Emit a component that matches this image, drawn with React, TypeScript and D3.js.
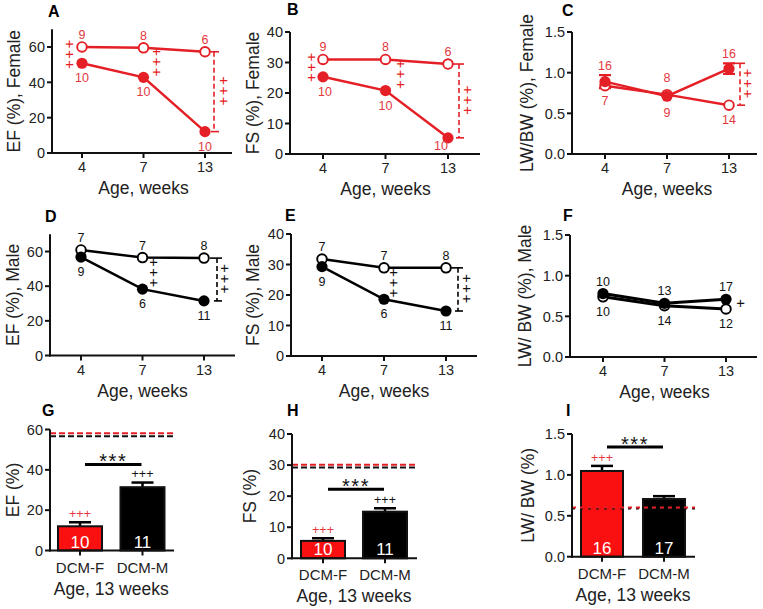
import React from 'react';
import * as d3 from 'd3';

// ---------- data ----------
const weeks = ['4', '7', '13'];
const groups = ['DCM-F', 'DCM-M'];

const efFemaleCtrl = [60, 59.5, 57.3];
const efFemaleDcm = [50.8, 42.8, 12.1];
const fsFemaleCtrl = [31, 31, 29.5];
const fsFemaleDcm = [25.3, 20.8, 5.3];
const lwFemaleCtrl = [0.84, 0.73, 0.6];
const lwFemaleDcm = [0.89, 0.71, 1.05];
const lwFemaleDcmErr = [0.08, 0, 0.065];

const efMaleCtrl = [60.9, 56.5, 56.2];
const efMaleDcm = [56.8, 38.3, 31.5];
const fsMaleCtrl = [31.8, 28.9, 28.9];
const fsMaleDcm = [29.3, 18.6, 14.75];
const lwMaleCtrl = [0.74, 0.63, 0.59];
const lwMaleDcm = [0.78, 0.66, 0.71];

const nFemaleEchoCtrl = ['9', '8', '6'];
const nFemaleEchoDcm = ['10', '10', '10'];
const nFemaleLwCtrl = ['7', '8', '14'];
const nFemaleLwDcm = ['16', '9', '16'];
const nMaleEchoCtrl = ['7', '7', '8'];
const nMaleEchoDcm = ['9', '6', '11'];
const nMaleLwCtrl = ['10', '14', '12'];
const nMaleLwDcm = ['10', '13', '17'];

const ef13Values = [12, 31.4];
const ef13Err = [2, 2.3];
const ef13Ctrl = [58.2, 56.7]; // female ctrl (red), male ctrl (black)
const ef13Sig = 42.7;
const fs13Values = [5.6, 15.0];
const fs13Err = [0.85, 1.1];
const fs13Ctrl = [30.1, 29.2];
const fs13Sig = 22.2;
const lw13Values = [1.048, 0.705];
const lw13Err = [0.062, 0.035];
const lw13Ctrl = [0.6, 0.59];
const lw13Sig = 1.34;
const n13Echo = ['10', '11'];
const n13Lw = ['16', '17'];

const ticksEF = [0, 20, 40, 60];
const ticksFS = [0, 10, 20, 30, 40];
const ticksLW = [0, 0.5, 1.0, 1.5];

// ---------- style ----------
const FONT = "Arial, 'Liberation Sans', Helvetica, sans-serif";
const RED = '#e41f26';
const RED_TXT = '#e3383e';
const BAR_RED = '#fa1010';
const BLACK = '#000';
const AXIS = '#111';

type Cross = { i: number; dx: number; count: number };
type Bracket = { i: number; dx: number; fromErr?: boolean };

interface LineProps {
  letter: string; letterX: number; letterY: number;
  axisX: number; xEnd: number; yRange: [number, number]; yDomain: [number, number];
  yTicks: number[]; fmt?: string; xRange: [number, number];
  ctrl: number[]; dcm: number[]; dcmErr?: number[];
  nCtrl: string[]; nDcm: string[]; ctrlPos: string[]; dcmPos: string[];
  ctrlNudge?: [number, number][]; dcmNudge?: [number, number][];
  color: string; txtColor: string; title: string; titleX: number;
  crosses: Cross[]; bracket?: Bracket; lw?: number;
}

function YAxis({ axisX, y, ticks, fmt }: any) {
  const f = fmt ? d3.format(fmt) : (d: number) => String(d);
  const [d0, d1] = y.domain();
  return (
    <g>
      <line x1={axisX} x2={axisX} y1={y(d0) + 1} y2={y(d1)} stroke={AXIS} strokeWidth={2} />
      {ticks.map((t: number) => (
        <g key={t}>
          <line x1={axisX - 5} x2={axisX} y1={y(t)} y2={y(t)} stroke={AXIS} strokeWidth={2} />
          <text x={axisX - 7} y={y(t)} dy="0.36em" textAnchor="end" fontSize={14.5} fontFamily={FONT} fill="#222">{f(t)}</text>
        </g>
      ))}
    </g>
  );
}

function LinePanel(p: LineProps) {
  const y = d3.scaleLinear().domain(p.yDomain).range(p.yRange);
  const x = d3.scalePoint<string>().domain(weeks).range(p.xRange);
  const line = d3.line<number>().x((_, i) => x(weeks[i])!).y((d) => y(d));
  const y0 = y(0);
  const lw = p.lw ?? 2.5;
  const labelY = (v: number, pos: string, err?: number) => {
    if (pos === 'above') return err ? y(v + err) - 9.5 : y(v) - 12.5;
    return y(v) + 14.5;
  };
  const midX = (p.xRange[0] + p.xRange[1]) / 2;
  const midY = (p.yRange[0] + p.yRange[1]) / 2;
  const crossColor = p.color === BLACK ? '#111' : RED;
  return (
    <g>
      <text x={p.letterX} y={p.letterY} fontSize={16} fontWeight="bold" fontFamily={FONT}>{p.letter}</text>
      <YAxis axisX={p.axisX} y={y} ticks={p.yTicks} fmt={p.fmt} />
      <line x1={p.axisX - 1} x2={p.xEnd} y1={y0} y2={y0} stroke={AXIS} strokeWidth={2} />
      {weeks.map((w) => (
        <g key={w}>
          <line x1={x(w)} x2={x(w)} y1={y0} y2={y0 + 5} stroke={AXIS} strokeWidth={2} />
          <text x={x(w)} y={y0 + 19} textAnchor="middle" fontSize={14.5} fontFamily={FONT} fill="#222">{w}</text>
        </g>
      ))}
      <text x={midX} y={y0 + 41} textAnchor="middle" fontSize={17.5} fontFamily={FONT} fill="#222">Age, weeks</text>
      <text transform={`translate(${p.titleX},${midY}) rotate(-90)`} textAnchor="middle" dy="0.36em" fontSize={17.5} fontFamily={FONT} fill="#222">{p.title}</text>

      <path d={line(p.ctrl)!} fill="none" stroke={p.color} strokeWidth={lw} />
      <path d={line(p.dcm)!} fill="none" stroke={p.color} strokeWidth={lw} />

      {p.bracket && (() => {
        const b = p.bracket!;
        const bx = x(weeks[b.i])! + b.dx;
        const top = b.fromErr && p.dcmErr ? p.dcm[b.i] + p.dcmErr[b.i] : Math.max(p.ctrl[b.i], p.dcm[b.i]);
        const bottom = b.fromErr ? p.ctrl[b.i] : Math.min(p.ctrl[b.i], p.dcm[b.i]);
        return (
          <g stroke={p.color} strokeWidth={1.6}>
            <line x1={bx} x2={bx} y1={y(top)} y2={y(bottom)} strokeDasharray="5,3" />
            <line x1={bx - 7} x2={bx + 5} y1={y(top)} y2={y(top)} />
            <line x1={bx - 3} x2={bx + 5} y1={y(bottom)} y2={y(bottom)} />
          </g>
        );
      })()}

      {p.dcmErr && p.dcm.map((v, i) => p.dcmErr![i] > 0 ? (
        <g key={'e' + i} stroke={p.color} strokeWidth={2.2}>
          <line x1={x(weeks[i])} x2={x(weeks[i])} y1={y(v - p.dcmErr![i])} y2={y(v + p.dcmErr![i])} />
          <line x1={x(weeks[i])! - 6} x2={x(weeks[i])! + 6} y1={y(v + p.dcmErr![i])} y2={y(v + p.dcmErr![i])} />
          <line x1={x(weeks[i])! - 6} x2={x(weeks[i])! + 6} y1={y(v - p.dcmErr![i])} y2={y(v - p.dcmErr![i])} />
        </g>
      ) : null)}

      {p.ctrl.map((v, i) => (
        <circle key={'c' + i} cx={x(weeks[i])} cy={y(v)} r={4.8} fill="#fff" stroke={p.color} strokeWidth={1.9} />
      ))}
      {p.dcm.map((v, i) => (
        <circle key={'d' + i} cx={x(weeks[i])} cy={y(v)} r={5.6} fill={p.color} />
      ))}

      {p.ctrl.map((v, i) => {
        const [nx, ny] = p.ctrlNudge ? p.ctrlNudge[i] : [0, 0];
        return (
          <text key={'nc' + i} x={x(weeks[i])! + nx} y={labelY(v, p.ctrlPos[i]) + ny} dy="0.36em" textAnchor="middle" fontSize={12.5} fontFamily={FONT} fill={p.txtColor}>{p.nCtrl[i]}</text>
        );
      })}
      {p.dcm.map((v, i) => {
        const [nx, ny] = p.dcmNudge ? p.dcmNudge[i] : [0, 0];
        return (
          <text key={'nd' + i} x={x(weeks[i])! + nx} y={labelY(v, p.dcmPos[i], p.dcmErr ? p.dcmErr[i] : 0) + ny} dy="0.36em" textAnchor="middle" fontSize={12.5} fontFamily={FONT} fill={p.txtColor}>{p.nDcm[i]}</text>
        );
      })}

      {p.crosses.map((c, k) => {
        const cx = x(weeks[c.i])! + c.dx;
        const hi = p.dcm[c.i] > p.ctrl[c.i];
        const top = p.dcmErr && hi ? p.dcm[c.i] + p.dcmErr[c.i] : (hi ? p.dcm[c.i] : p.ctrl[c.i]);
        const bot = hi ? p.ctrl[c.i] : p.dcm[c.i];
        const cy = (y(top) + y(bot)) / 2;
        const s = '+'.repeat(c.count);
        return (
          <text key={'x' + k} transform={`translate(${cx},${cy}) rotate(90)`} dy="0.35em" textAnchor="middle"
            fontSize={15} letterSpacing={1.5} fontFamily={FONT} fill={crossColor}>{s}</text>
        );
      })}
    </g>
  );
}

interface BarProps {
  letter: string; letterX: number; letterY: number;
  axisX: number; xEnd: number; yRange: [number, number]; yDomain: [number, number];
  yTicks: number[]; fmt?: string; centers: [number, number]; barWidth: number;
  values: number[]; errs: number[]; nLabels: string[]; refs: number[]; sig: number;
  crossFemale: boolean; crossMale: boolean; title: string; titleX: number; refStyle?: string;
}

function BarPanel(p: BarProps) {
  const y = d3.scaleLinear().domain(p.yDomain).range(p.yRange);
  const x = d3.scalePoint<string>().domain(groups).range(p.centers);
  const y0 = y(0);
  const colors = [BAR_RED, BLACK];
  const midY = (p.yRange[0] + p.yRange[1]) / 2;
  const midX = (p.centers[0] + p.centers[1]) / 2;
  const dashRed = p.refStyle === 'mixed' ? '4,4' : '6,3';
  const dashBlack = p.refStyle === 'mixed' ? '3,5' : '6,3';
  return (
    <g>
      <text x={p.letterX} y={p.letterY} fontSize={16} fontWeight="bold" fontFamily={FONT}>{p.letter}</text>
      {p.values.map((v, i) => {
        const cx = x(groups[i])!;
        const top = y(v);
        const et = y(v + p.errs[i]);
        return (
          <g key={i}>
            <line x1={cx} x2={cx} y1={top} y2={et} stroke={BLACK} strokeWidth={2.5} />
            <line x1={cx - 11} x2={cx + 11} y1={et} y2={et} stroke={BLACK} strokeWidth={2.5} />
            <rect x={cx - p.barWidth / 2} y={top} width={p.barWidth} height={y0 - top} fill={colors[i]} stroke="#111" strokeWidth={2} />
            <text x={cx} y={y0 - 3} textAnchor="middle" fontSize={17} fontFamily={FONT} fill="#fff">{p.nLabels[i]}</text>
          </g>
        );
      })}
      {p.values.map((v, i) => {
        const show = i === 0 ? p.crossFemale : p.crossMale;
        if (!show) return null;
        const cx = x(groups[i])!;
        const cy = y(v + p.errs[i]) - 8.5;
        return <text key={'p' + i} x={cx} y={cy + 4.4} textAnchor="middle" fontSize={12.5} fontFamily={FONT} fill={i === 0 ? RED_TXT : '#111'}>+++</text>;
      })}
      <line x1={p.axisX} x2={p.xEnd} y1={y(p.refs[1])} y2={y(p.refs[1])} stroke="#111" strokeWidth={2} strokeDasharray={dashBlack} />
      <line x1={p.axisX} x2={p.xEnd} y1={y(p.refs[0])} y2={y(p.refs[0])} stroke={RED} strokeWidth={2} strokeDasharray={dashRed} />
      <line x1={x(groups[0])! + 5} x2={x(groups[1])! - 1} y1={y(p.sig)} y2={y(p.sig)} stroke={BLACK} strokeWidth={3} />
      <text x={(x(groups[0])! + x(groups[1])!) / 2 + 2} y={y(p.sig) + 3.5} textAnchor="middle" fontSize={20} letterSpacing={1.5} fontFamily={FONT} fill="#111">***</text>

      <YAxis axisX={p.axisX} y={y} ticks={p.yTicks} fmt={p.fmt} />
      <line x1={p.axisX - 1} x2={p.xEnd} y1={y0} y2={y0} stroke={AXIS} strokeWidth={2} />
      {groups.map((g) => (
        <g key={g}>
          <line x1={x(g)} x2={x(g)} y1={y0} y2={y0 + 5} stroke={AXIS} strokeWidth={2} />
          <text x={x(g)} y={y0 + 22} textAnchor="middle" fontSize={15} fontFamily={FONT} fill="#222">{g}</text>
        </g>
      ))}
      <text x={midX} y={y0 + 44} textAnchor="middle" fontSize={17.5} fontFamily={FONT} fill="#222">Age, 13 weeks</text>
      <text transform={`translate(${p.titleX},${midY}) rotate(-90)`} textAnchor="middle" dy="0.36em" fontSize={17.5} fontFamily={FONT} fill="#222">{p.title}</text>
    </g>
  );
}

export default function App() {
  return (
    <svg width={763} height={609} viewBox="0 0 763 609" style={{ position: 'absolute', left: 0, top: 0, background: '#fff' }}>
      <rect width={763} height={609} fill="#fff" />
      <LinePanel letter="A" letterX={48} letterY={17} axisX={52} xEnd={232} yRange={[153, 29.3]} yDomain={[0, 70]}
        yTicks={ticksEF} xRange={[82, 205]} ctrl={efFemaleCtrl} dcm={efFemaleDcm}
        nCtrl={nFemaleEchoCtrl} nDcm={nFemaleEchoDcm} ctrlPos={['above', 'above', 'above']} dcmPos={['below', 'below', 'below']}
        color={RED} txtColor={RED_TXT} title="EF (%), Female" titleX={14}
        crosses={[{ i: 0, dx: -12, count: 3 }, { i: 1, dx: 14, count: 3 }, { i: 2, dx: 19, count: 3 }]}
        bracket={{ i: 2, dx: 9 }} />
      <LinePanel letter="B" letterX={287} letterY={15} axisX={290} xEnd={480} yRange={[154, 32]} yDomain={[0, 40]}
        yTicks={ticksFS} xRange={[323, 448]} ctrl={fsFemaleCtrl} dcm={fsFemaleDcm}
        nCtrl={nFemaleEchoCtrl} nDcm={nFemaleEchoDcm} ctrlPos={['above', 'above', 'above']} dcmPos={['below', 'below', 'below']}
        dcmNudge={[[2, 0], [0, 0], [-7, -7]]}
        color={RED} txtColor={RED_TXT} title="FS (%), Female" titleX={253}
        crosses={[{ i: 0, dx: -11, count: 3 }, { i: 1, dx: 16, count: 3 }, { i: 2, dx: 20, count: 3 }]}
        bracket={{ i: 2, dx: 11 }} />
      <LinePanel letter="C" letterX={562} letterY={16} axisX={572} xEnd={757} yRange={[154, 32]} yDomain={[0, 1.5]}
        yTicks={ticksLW} fmt=".1f" xRange={[605, 729]} ctrl={lwFemaleCtrl} dcm={lwFemaleDcm} dcmErr={lwFemaleDcmErr}
        nCtrl={nFemaleLwCtrl} nDcm={nFemaleLwDcm} ctrlPos={['below', 'above', 'below']} dcmPos={['above', 'below', 'above']}
        ctrlNudge={[[0, 0], [0, -5], [0, 0]]} dcmNudge={[[0, 0], [0, 2], [0, 0]]}
        color={RED} txtColor={RED_TXT} title="LW/BW (%), Female" titleX={527}
        crosses={[{ i: 2, dx: 19, count: 3 }]}
        bracket={{ i: 2, dx: 11, fromErr: true }} />

      <LinePanel letter="D" letterX={45} letterY={222} axisX={50} xEnd={235} yRange={[355.5, 234.2]} yDomain={[0, 70]}
        yTicks={ticksEF} xRange={[81, 204]} ctrl={efMaleCtrl} dcm={efMaleDcm}
        nCtrl={nMaleEchoCtrl} nDcm={nMaleEchoDcm} ctrlPos={['above', 'above', 'above']} dcmPos={['below', 'below', 'below']}
        color={BLACK} txtColor="#111" title="EF (%), Male" titleX={13}
        crosses={[{ i: 1, dx: 12, count: 3 }, { i: 2, dx: 21, count: 3 }]}
        bracket={{ i: 2, dx: 13 }} />
      <LinePanel letter="E" letterX={285} letterY={221} axisX={291} xEnd={477} yRange={[356, 234]} yDomain={[0, 40]}
        yTicks={ticksFS} xRange={[322, 446]} ctrl={fsMaleCtrl} dcm={fsMaleDcm}
        nCtrl={nMaleEchoCtrl} nDcm={nMaleEchoDcm} ctrlPos={['above', 'above', 'above']} dcmPos={['below', 'below', 'below']}
        color={BLACK} txtColor="#111" title="FS (%), Male" titleX={253}
        crosses={[{ i: 1, dx: 10, count: 3 }, { i: 2, dx: 21, count: 3 }]}
        bracket={{ i: 2, dx: 12 }} />
      <LinePanel letter="F" letterX={563} letterY={221} axisX={570} xEnd={757} yRange={[357, 235]} yDomain={[0, 1.5]}
        yTicks={ticksLW} fmt=".1f" xRange={[603, 726]} ctrl={lwMaleCtrl} dcm={lwMaleDcm}
        nCtrl={nMaleLwCtrl} nDcm={nMaleLwDcm} ctrlPos={['below', 'below', 'below']} dcmPos={['above', 'above', 'above']}
        color={BLACK} txtColor="#111" title="LW/ BW (%), Male" titleX={525}
        crosses={[{ i: 2, dx: 15, count: 1 }]} lw={3} />

      <BarPanel letter="G" letterX={42} letterY={416} axisX={50} xEnd={174} yRange={[550.5, 429.5]} yDomain={[0, 60]}
        yTicks={ticksEF} centers={[80, 142.5]} barWidth={44} values={ef13Values} errs={ef13Err} nLabels={n13Echo}
        refs={ef13Ctrl} sig={ef13Sig} crossFemale={true} crossMale={true} title="EF (%)" titleX={13} />
      <BarPanel letter="H" letterX={287} letterY={416} axisX={292} xEnd={417} yRange={[558.3, 434]} yDomain={[0, 40]}
        yTicks={ticksFS} centers={[323, 385]} barWidth={44} values={fs13Values} errs={fs13Err} nLabels={n13Echo}
        refs={fs13Ctrl} sig={fs13Sig} crossFemale={true} crossMale={true} title="FS (%)" titleX={250} />
      <BarPanel letter="I" letterX={566} letterY={416} axisX={572} xEnd={695} yRange={[556.7, 434]} yDomain={[0, 1.5]}
        yTicks={ticksLW} fmt=".1f" centers={[602, 664]} barWidth={42} values={lw13Values} errs={lw13Err} nLabels={n13Lw}
        refs={lw13Ctrl} sig={lw13Sig} crossFemale={true} crossMale={false} title="LW/ BW (%)" titleX={528} refStyle="mixed" />
    </svg>
  );
}
